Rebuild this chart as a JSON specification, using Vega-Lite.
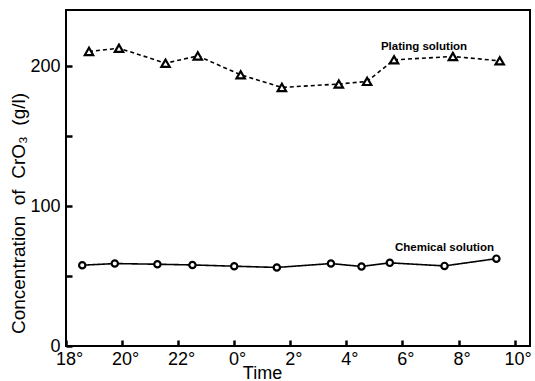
{
  "$schema": "https://vega.github.io/schema/vega-lite/v6.json",
  "width": 464,
  "height": 336,
  "autosize": {"type": "none"},
  "padding": {"left": 66, "top": 10, "right": 5, "bottom": 35},
  "background": "white",
  "config": {
    "view": {"stroke": "black", "strokeWidth": 2},
    "font": "Liberation Sans",
    "axis": {
      "domain": false, "grid": false, "labelColor": "black", "titleColor": "black",
      "labelFontSize": 18, "titleFontWeight": "normal", "labelFlush": false, "labelOverlap": false
    }
  },
  "datasets": {
    "series": [
      {"series": "Plating solution", "hour": 18.82, "value": 210.4},
      {"series": "Plating solution", "hour": 19.89, "value": 212.7},
      {"series": "Plating solution", "hour": 21.55, "value": 202.0},
      {"series": "Plating solution", "hour": 22.70, "value": 207.2},
      {"series": "Plating solution", "hour": 24.23, "value": 193.7},
      {"series": "Plating solution", "hour": 25.70, "value": 184.7},
      {"series": "Plating solution", "hour": 27.73, "value": 187.1},
      {"series": "Plating solution", "hour": 28.74, "value": 189.0},
      {"series": "Plating solution", "hour": 29.70, "value": 204.4},
      {"series": "Plating solution", "hour": 31.80, "value": 206.8},
      {"series": "Plating solution", "hour": 33.47, "value": 203.7},
      {"series": "Chemical solution", "hour": 18.58, "value": 57.7},
      {"series": "Chemical solution", "hour": 19.74, "value": 58.9},
      {"series": "Chemical solution", "hour": 21.26, "value": 58.4},
      {"series": "Chemical solution", "hour": 22.51, "value": 57.9},
      {"series": "Chemical solution", "hour": 24.00, "value": 57.0},
      {"series": "Chemical solution", "hour": 25.52, "value": 56.1},
      {"series": "Chemical solution", "hour": 27.45, "value": 58.9},
      {"series": "Chemical solution", "hour": 28.54, "value": 56.8},
      {"series": "Chemical solution", "hour": 29.55, "value": 59.4},
      {"series": "Chemical solution", "hour": 31.50, "value": 57.2},
      {"series": "Chemical solution", "hour": 33.35, "value": 62.4}
    ],
    "labels": [
      {"label": "Plating solution", "hour": 30.77, "value": 213.9},
      {"label": "Chemical solution", "hour": 31.50, "value": 69.8}
    ]
  },
  "encoding": {
    "x": {
      "field": "hour", "type": "quantitative",
      "scale": {"domain": [18, 34.55], "nice": false, "zero": false},
      "axis": {
        "values": [18, 20, 22, 24, 26, 28, 30, 32, 34],
        "labelExpr": "(datum.value % 24) + '°'",
        "ticks": true, "tickSize": -6, "tickColor": "#000000", "tickWidth": 2.5,
        "labelPadding": 10, "labelOffset": 3,
        "title": "Time", "titleFontSize": 18,
        "titleX": 196, "titleY": 18, "titleBaseline": "top", "titleAlign": "center", "titleAnchor": "start"
      }
    },
    "y": {
      "field": "value", "type": "quantitative",
      "scale": {"domain": [0, 240], "nice": false},
      "axis": {
        "values": [0, 50, 100, 150, 200],
        "labelExpr": "datum.value == 0 ? '0\u00a0\u00a0\u00a0' : (datum.value % 100 == 0 ? datum.label : '')",
        "ticks": true, "tickSize": -6, "tickColor": "#000000", "tickWidth": 2.5,
        "labelPadding": 12,
        "title": "Concentration\u00a0 of\u00a0 CrO₃\u00a0 (g/l)", "titleFontSize": 19,
        "titleX": -48, "titleY": 203, "titleAlign": "center", "titleBaseline": "middle", "titleAnchor": "start"
      }
    }
  },
  "layer": [
    {
      "data": {"name": "series"},
      "mark": {"type": "line", "color": "black", "strokeWidth": 1.6},
      "encoding": {
        "detail": {"field": "series"},
        "strokeDash": {
          "field": "series", "type": "nominal",
          "scale": {"domain": ["Plating solution", "Chemical solution"], "range": [[4, 3], [1, 0]]},
          "legend": null
        }
      }
    },
    {
      "data": {"name": "series"},
      "mark": {"type": "point", "filled": false, "fill": "white", "stroke": "black", "strokeWidth": 2.2, "opacity": 1, "fillOpacity": 1},
      "encoding": {
        "shape": {
          "field": "series", "type": "nominal",
          "scale": {"domain": ["Plating solution", "Chemical solution"], "range": ["triangle-up", "circle"]},
          "legend": null
        },
        "size": {
          "field": "series", "type": "nominal",
          "scale": {"domain": ["Plating solution", "Chemical solution"], "range": [70, 40]},
          "legend": null
        }
      }
    },
    {
      "data": {"name": "labels"},
      "mark": {"type": "text", "fontSize": 11.5, "fontWeight": "bold", "color": "black", "align": "center", "baseline": "middle"},
      "encoding": {
        "text": {"field": "label"}
      }
    }
  ]
}
